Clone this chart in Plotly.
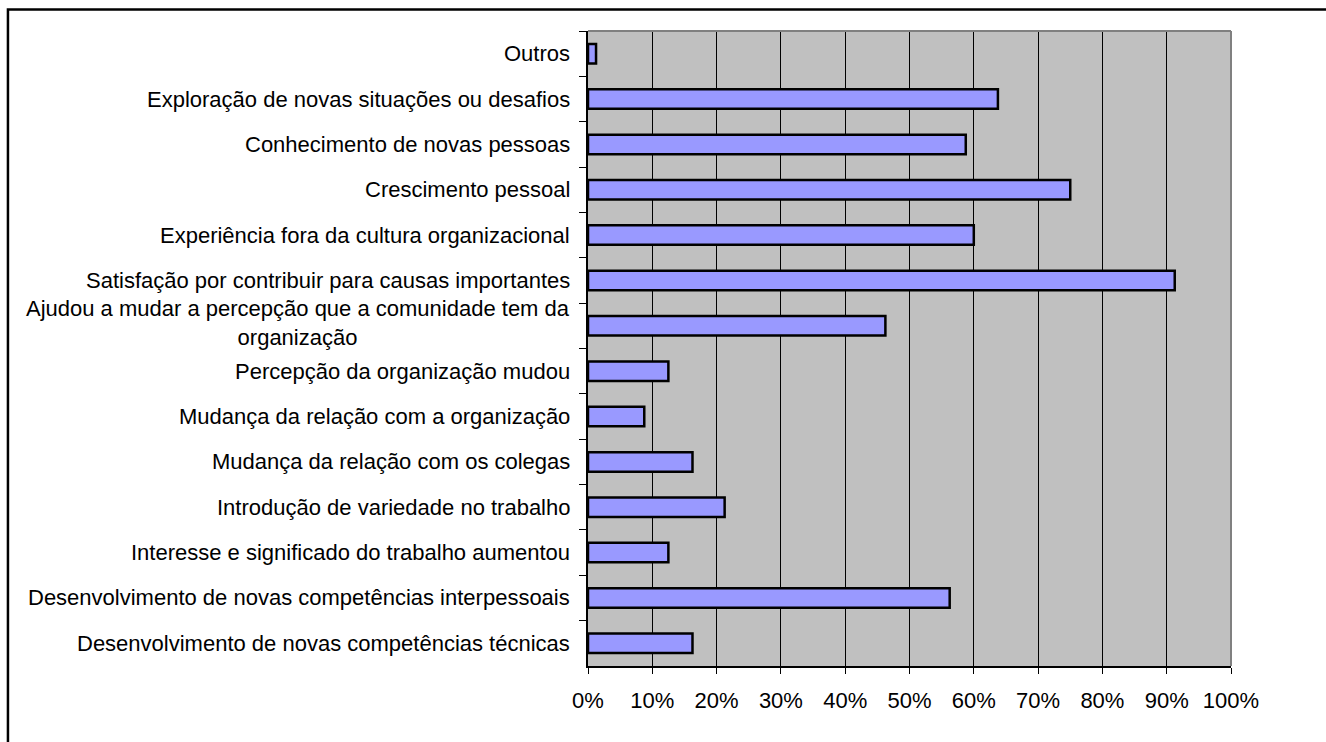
import plotly.graph_objects as go

# Motivos / benefícios apontados (proporção de respostas)
categorias = [
    "Outros",
    "Exploração de novas situações ou desafios",
    "Conhecimento de novas pessoas",
    "Crescimento pessoal",
    "Experiência fora da cultura organizacional",
    "Satisfação por contribuir para causas importantes",
    "Ajudou a mudar a percepção que a comunidade tem da<br>organização",
    "Percepção da organização mudou",
    "Mudança da relação com a organização",
    "Mudança da relação com os colegas",
    "Introdução de variedade no trabalho",
    "Interesse e significado do trabalho aumentou",
    "Desenvolvimento de novas competências interpessoais",
    "Desenvolvimento de novas competências técnicas",
]
valores = [
    0.0125, 0.6375, 0.5875, 0.75, 0.60, 0.9125, 0.4625,
    0.125, 0.0875, 0.1625, 0.2125, 0.125, 0.5625, 0.1625,
]
ticks_x = [i / 10 for i in range(11)]
ticks_x_texto = [f"{i * 10}%" for i in range(11)]

FONTE = "Arial, Liberation Sans, sans-serif"
W, H = 1326, 742
ML, MR, MT, MB = 588, 94.5, 31, 76
PW, PH = W - ML - MR, H - MT - MB

fig = go.Figure()
fig.add_trace(go.Bar(
    y=categorias,
    x=valores,
    orientation="h",
    width=0.43,
    marker=dict(color="#9999FF", line=dict(color="#000000", width=2.5)),
    hoverinfo="x+y",
))

# Rótulos das categorias (centrados em bloco, alinhados à direita do eixo)
for cat in categorias:
    fig.add_annotation(
        x=0, xref="paper", y=cat, yref="y",
        text=cat, showarrow=False,
        xanchor="right", yanchor="middle", align="center",
        xshift=-16, yshift=3 if "<br>" in cat else 0,
        font=dict(family=FONTE, size=22, color="#000000"),
    )

# Moldura do gráfico (contorno exterior)
def px_x(p):
    return (p - ML) / PW

def px_y(p):
    return (H - MB - p) / PH

fig.add_shape(
    type="rect", xref="paper", yref="paper",
    x0=px_x(7.5), x1=px_x(W + 10), y0=px_y(H + 10), y1=px_y(9.5),
    line=dict(color="#000000", width=2.5), layer="above",
)
# Contorno cinzento da área de plotagem (topo e direita)
fig.add_shape(
    type="line", xref="paper", yref="paper",
    x0=0, x1=1, y0=1, y1=1, line=dict(color="#808080", width=2), layer="above",
)
fig.add_shape(
    type="line", xref="paper", yref="paper",
    x0=1, x1=1, y0=0, y1=1, line=dict(color="#808080", width=2), layer="above",
)

fig.update_layout(
    width=W, height=H,
    margin=dict(l=ML, r=MR, t=MT, b=MB, pad=0),
    paper_bgcolor="#FFFFFF",
    plot_bgcolor="#C0C0C0",
    showlegend=False,
    font=dict(family=FONTE, size=22, color="#000000"),
)
fig.update_xaxes(
    range=[0, 1],
    tickvals=ticks_x, ticktext=ticks_x_texto,
    showgrid=True, gridcolor="#000000", gridwidth=1,
    showline=True, linecolor="#000000", linewidth=1.5,
    ticks="outside", ticklen=6, tickcolor="#000000", tickwidth=1,
    ticklabelstandoff=8,
    tickfont=dict(family=FONTE, size=22, color="#000000"),
    zeroline=False, fixedrange=True,
)
fig.update_yaxes(
    categoryorder="array", categoryarray=categorias,
    autorange="reversed",
    showticklabels=False,
    showgrid=False,
    showline=True, linecolor="#000000", linewidth=1.5,
    ticks="outside", tickson="boundaries", ticklen=7,
    tickcolor="#000000", tickwidth=1,
    zeroline=False, fixedrange=True,
)

fig.write_html("out.html")
